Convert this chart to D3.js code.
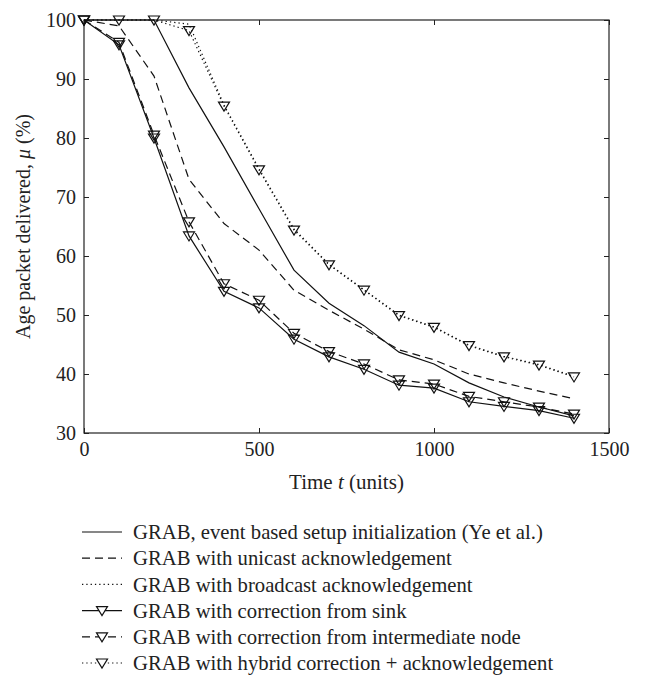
<!DOCTYPE html>
<html>
<head>
<meta charset="utf-8">
<script src="https://cdn.jsdelivr.net/npm/d3@7"></script>
<style>
  body { margin: 0; background: #fff; }
  text { font-family: "Liberation Serif", "DejaVu Serif", serif; fill: #222; }
</style>
</head>
<body>
<div id="chart"></div>
<script>
// data
var times = [0, 100, 200, 300, 400, 500, 600, 700, 800, 900, 1000, 1100, 1200, 1300, 1400];

var eventBased   = [100, 100, 100, 88.5, 78.5, 68, 57.6, 52, 48.2, 43.7, 41.7, 38.5, 36.1, 34.4, 32.9];
var unicastAck   = [100, 99, 90.5, 73, 65.5, 61, 54.2, 50.8, 47.6, 44.1, 42.4, 40, 38.5, 37.1, 35.8];
var broadcastAck = [100, 100, 100, 99.3, 85.6, 74.8, 64.6, 58.6, 54.3, 50, 48, 44.9, 43, 41.6, 39.6];
var sinkCorr     = [100, 95.8, 80, 63.4, 54, 51.2, 45.9, 42.9, 40.8, 38.1, 37.6, 35.3, 34.5, 33.8, 32.5];
var interCorr    = [100, 96.2, 80.5, 65.8, 55.3, 52.5, 46.9, 43.8, 41.7, 39, 38.3, 36.2, 35.3, 34.4, 33.2];
var hybridCorr   = [100, 100, 100, 98.2, 85.4, 74.6, 64.4, 58.5, 54.2, 49.9, 47.9, 44.8, 42.9, 41.5, 39.5];

var xTicks = [0, 500, 1000, 1500];
var yTicks = [30, 40, 50, 60, 70, 80, 90, 100];

var seriesNames = [
  "GRAB, event based setup initialization (Ye et al.)",
  "GRAB with unicast acknowledgement",
  "GRAB with broadcast acknowledgement",
  "GRAB with correction from sink",
  "GRAB with correction from intermediate node",
  "GRAB with hybrid correction + acknowledgement"
];

var series = [
  {name: seriesNames[0], values: eventBased,   dash: null,    marker: false},
  {name: seriesNames[1], values: unicastAck,   dash: "8,5",   marker: false},
  {name: seriesNames[2], values: broadcastAck, dash: "1.3,3", marker: false},
  {name: seriesNames[3], values: sinkCorr,     dash: null,    marker: true},
  {name: seriesNames[4], values: interCorr,    dash: "8,5",   marker: true},
  {name: seriesNames[5], values: hybridCorr,   dash: "1.3,3", marker: true}
];

var W = 645, H = 677;
var margin = {top: 20, right: 36, bottom: 244, left: 84},
    width = W - margin.left - margin.right,
    height = H - margin.top - margin.bottom;

var svg = d3.select("#chart").append("svg")
    .attr("width", W)
    .attr("height", H);

var g = svg.append("g")
    .attr("transform", "translate(" + margin.left + "," + margin.top + ")");

var x = d3.scaleLinear().domain([0, 1500]).range([0, width]);
var y = d3.scaleLinear().domain([30, 100]).range([height, 0]);

// inward ticks on all four sides
function styleAxis(sel) {
  sel.select(".domain").remove();
  sel.selectAll(".tick line").attr("stroke", "#222").attr("stroke-width", 1);
  sel.selectAll("text").style("font-size", "20px");
}

g.append("g")
    .attr("transform", "translate(0," + height + ")")
    .call(d3.axisBottom(x).tickValues(xTicks).tickSize(-5).tickPadding(9).tickFormat(d3.format("d")))
    .call(styleAxis);

g.append("g")
    .call(d3.axisLeft(y).tickValues(yTicks).tickSize(-5).tickPadding(8).tickFormat(d3.format("d")))
    .call(styleAxis);

g.append("g")
    .call(d3.axisTop(x).tickValues(xTicks).tickSize(-5).tickFormat(""))
    .call(styleAxis);

g.append("g")
    .attr("transform", "translate(" + width + ",0)")
    .call(d3.axisRight(y).tickValues(yTicks).tickSize(-5).tickFormat(""))
    .call(styleAxis);

g.append("rect")
    .attr("width", width)
    .attr("height", height)
    .attr("fill", "none")
    .attr("stroke", "#222")
    .attr("stroke-width", 1.2);

var line = d3.line()
    .x(function(d, i) { return x(times[i]); })
    .y(function(d) { return y(d); });

var tri = "M-5.5,-4L5.5,-4L0,5Z";

series.forEach(function(s) {
  g.append("path")
      .datum(s.values)
      .attr("d", line)
      .attr("fill", "none")
      .attr("stroke", "#111")
      .attr("stroke-width", 1.2)
      .attr("stroke-dasharray", s.dash);

  if (s.marker) {
    g.selectAll(null)
        .data(s.values)
      .enter().append("path")
        .attr("d", tri)
        .attr("transform", function(d, i) { return "translate(" + x(times[i]) + "," + y(d) + ")"; })
        .attr("fill", "none")
        .attr("stroke", "#111")
        .attr("stroke-width", 1.2);
  }
});

// axis labels
var xl = svg.append("text")
    .attr("x", margin.left + width / 2)
    .attr("y", 489)
    .attr("text-anchor", "middle")
    .style("font-size", "21px");
xl.append("tspan").text("Time ");
xl.append("tspan").style("font-style", "italic").text("t");
xl.append("tspan").text(" (units)");

var yl = svg.append("text")
    .attr("transform", "translate(30," + (margin.top + height / 2) + ") rotate(-90)")
    .attr("text-anchor", "middle")
    .style("font-size", "20px");
yl.append("tspan").text("Age packet delivered, ");
yl.append("tspan").style("font-style", "italic").text("μ");
yl.append("tspan").text(" (%)");

// legend
var legend = svg.append("g").attr("transform", "translate(82,532)");
var item = legend.selectAll("g")
    .data(series)
  .enter().append("g")
    .attr("transform", function(d, i) { return "translate(0," + (i * 26.2) + ")"; });

item.append("line")
    .attr("x1", 0).attr("x2", 40)
    .attr("stroke", "#111")
    .attr("stroke-width", 1.2)
    .attr("stroke-dasharray", function(d) { return d.dash; });

item.filter(function(d) { return d.marker; })
  .append("path")
    .attr("d", tri)
    .attr("transform", "translate(20,0)")
    .attr("fill", "#fff")
    .attr("stroke", "#111")
    .attr("stroke-width", 1.2);

item.append("text")
    .attr("x", 51)
    .attr("dy", "0.35em")
    .style("font-size", "20.7px")
    .text(function(d) { return d.name; });
</script>
</body>
</html>
